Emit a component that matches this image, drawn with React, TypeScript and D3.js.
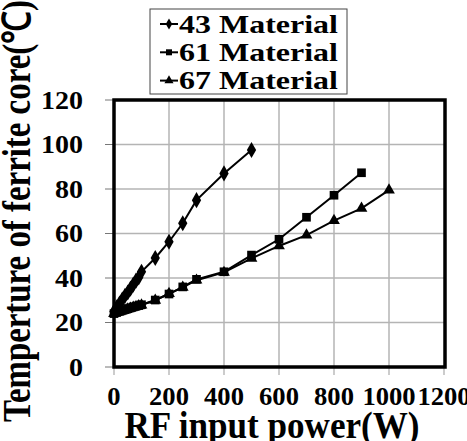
import * as React from 'react';
import * as d3 from 'd3';

// RF input power (W) and core temperature (℃)
const power43 = [0, 10, 20, 30, 40, 50, 60, 70, 80, 90, 100, 150, 200, 250, 300, 400, 500];
const temp43 = [25, 26.8, 28.5, 30.3, 32, 33.5, 35.2, 37, 38.8, 40.3, 42.8, 49, 56.3, 64.6, 75, 87, 97.5];

const power61 = [0, 10, 20, 30, 40, 50, 60, 70, 80, 90, 100, 150, 200, 250, 300, 400, 500, 600, 700, 800, 900];
const temp61 = [24, 24.5, 25, 25.4, 25.8, 26.2, 26.6, 27, 27.3, 27.6, 28, 30.1, 32.8, 36, 39.4, 42.8, 50.3, 57.4, 67.3, 77.2, 87.3];

const power67 = [0, 10, 20, 30, 40, 50, 60, 70, 80, 90, 100, 150, 200, 250, 300, 400, 500, 600, 700, 800, 900, 1000];
const temp67 = [24, 24.4, 24.8, 25.2, 25.6, 26, 26.4, 26.8, 27.2, 27.5, 27.8, 30, 33, 35.8, 39, 42.5, 48.8, 54.4, 59.3, 65.8, 71.3, 79.5];

const seriesNames = ['43 Material', '61 Material', '67 Material'];
const xTicks = [0, 200, 400, 600, 800, 1000, 1200];
const yTicks = [0, 20, 40, 60, 80, 100, 120];

const W = 467;
const H = 441;
const FONT = "'Liberation Serif', serif";

type Shape = 'diamond' | 'square' | 'triangle';

function marker(shape: Shape, size: number) {
  const sym = shape === 'diamond' ? d3.symbolDiamond : shape === 'square' ? d3.symbolSquare : d3.symbolTriangle;
  return d3.symbol().type(sym).size(size)() as string;
}

export default function App() {
  const x = d3.scaleLinear().domain([0, 1200]).range([114, 444]);
  const y = d3.scaleLinear().domain([0, 120]).range([367, 100]);

  const series = [
    { name: seriesNames[0], xs: power43, ys: temp43, shape: 'diamond' as Shape, size: 75 },
    { name: seriesNames[1], xs: power61, ys: temp61, shape: 'square' as Shape, size: 75 },
    { name: seriesNames[2], xs: power67, ys: temp67, shape: 'triangle' as Shape, size: 60 },
  ];

  const line = d3
    .line<[number, number]>()
    .x((d) => x(d[0]))
    .y((d) => y(d[1]));

  const [x0, x1] = x.range();
  const [yb, yt] = y.range();

  return (
    <svg width={W} height={H} style={{ position: 'absolute', left: 0, top: 0, background: '#fff' }}>
      {/* grid */}
      {xTicks.slice(1, -1).map((t) => (
        <line key={'gx' + t} x1={x(t)} x2={x(t)} y1={yt} y2={yb} stroke="#b4b4b4" strokeWidth={1.5} />
      ))}
      {yTicks.slice(1, -1).map((t) => (
        <line key={'gy' + t} x1={x0} x2={x1} y1={y(t)} y2={y(t)} stroke="#b4b4b4" strokeWidth={1.5} />
      ))}
      {/* tick marks */}
      {yTicks.map((t) => (
        <line key={'ty' + t} x1={x0 - 9} x2={x0} y1={y(t)} y2={y(t)} stroke="#777" strokeWidth={1} />
      ))}
      {xTicks.map((t) => (
        <line key={'tx' + t} x1={x(t)} x2={x(t)} y1={yb} y2={yb + 8} stroke="#999" strokeWidth={1} />
      ))}

      {/* series */}
      {series.map((s) => {
        const pts = s.xs.map((v, i) => [v, s.ys[i]] as [number, number]);
        return (
          <g key={s.name}>
            <path d={line(pts) as string} fill="none" stroke="#000" strokeWidth={2} />
            {pts.map((p, i) => (
              <path key={i} d={marker(s.shape, s.size)} transform={`translate(${x(p[0])},${y(p[1])})`} fill="#000" />
            ))}
          </g>
        );
      })}

      {/* frame */}
      <rect x={x0} y={yt} width={x1 - x0 + 1} height={yb - yt} fill="none" stroke="#000" strokeWidth={3.5} />

      <g fontFamily={FONT} fontWeight="bold">
        {/* tick labels */}
        {yTicks.map((t) => (
          <text
            key={'ly' + t}
            x={83}
            y={y(t) + 8.5}
            textAnchor="end"
            fontSize={25}
            textLength={String(t).length * 14}
            lengthAdjust="spacingAndGlyphs"
          >
            {t}
          </text>
        ))}
        {xTicks.map((t) => (
          <text
            key={'lx' + t}
            x={x(t)}
            y={405}
            textAnchor="middle"
            fontSize={25}
            textLength={String(t).length * 13.3}
            lengthAdjust="spacingAndGlyphs"
          >
            {t}
          </text>
        ))}

        {/* axis titles */}
        <text
          x={(x0 + x1) / 2 - 7}
          y={438}
          textAnchor="middle"
          fontSize={38}
          textLength={295}
          lengthAdjust="spacingAndGlyphs"
        >
          RF input power(W)
        </text>
        <text
          transform="translate(30,211) rotate(-90)"
          textAnchor="middle"
          fontSize={39}
          textLength={422}
          lengthAdjust="spacingAndGlyphs"
        >
          Temperture of ferrite core(℃)
        </text>

        {/* legend */}
        <rect x={150} y={9} width={197} height={85} fill="#fff" stroke="#444" strokeWidth={1} />
        {series.map((s, i) => {
          const cy = 24 + i * 28.3;
          return (
            <g key={'lg' + s.name}>
              <line x1={160} x2={178} y1={cy} y2={cy} stroke="#000" strokeWidth={2} />
              <path d={marker(s.shape, 36)} transform={`translate(169,${cy})`} fill="#000" />
              <text x={179} y={cy + 8.5} fontSize={26} textLength={159} lengthAdjust="spacingAndGlyphs">
                {s.name}
              </text>
            </g>
          );
        })}
      </g>
    </svg>
  );
}
